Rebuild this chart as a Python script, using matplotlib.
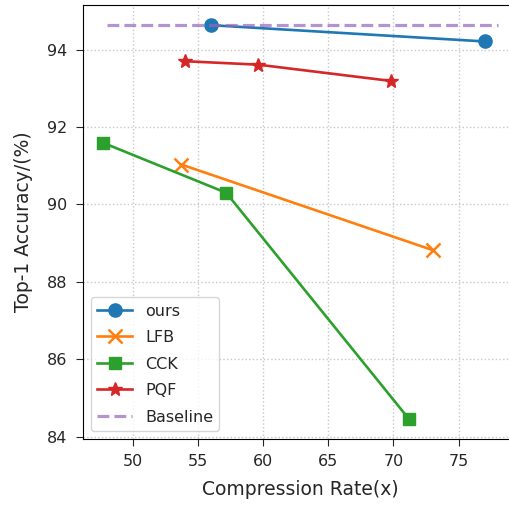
import matplotlib
matplotlib.use('Agg')
import matplotlib.pyplot as plt

# data
ours_x = [56.0, 77.0]
ours_y = [94.63, 94.21]
lfb_x = [53.7, 73.0]
lfb_y = [91.03, 88.82]
cck_x = [47.7, 57.15, 71.2]
cck_y = [91.59, 90.30, 84.45]
pqf_x = [53.95, 59.6, 69.8]
pqf_y = [93.70, 93.61, 93.19]
base_x = [48, 78]
base_y = [94.64, 94.64]

fig = plt.figure(figsize=(5.10, 5.08), dpi=100)
ax = fig.add_axes([0.162, 0.136, 0.852, 0.854])

ax.plot(ours_x, ours_y, marker='o', markersize=9.5, linewidth=1.9, color='tab:blue', label='ours')
ax.plot(lfb_x, lfb_y, marker='x', markersize=9.5, markeredgewidth=1.8, linewidth=1.9, color='tab:orange', label='LFB')
ax.plot(cck_x, cck_y, marker='s', markersize=8.5, linewidth=1.9, color='tab:green', label='CCK')
ax.plot(pqf_x, pqf_y, marker='*', markersize=10.5, linewidth=1.9, color='tab:red', label='PQF')
ax.plot(base_x, base_y, linestyle='--', linewidth=2.3, color='tab:purple', alpha=0.7, label='Baseline')

ax.set_xlim(46.12, 79.5)
ax.set_xticks([50, 55, 60, 65, 70, 75])
ax.set_yticks([84, 86, 88, 90, 92, 94])
ax.tick_params(labelsize=11.5, colors='#262626', length=5, pad=6)
ax.set_xlabel('Compression Rate(x)', fontsize=13.5, color='#262626', labelpad=8)
ax.set_ylabel('Top-1 Accuracy/(%)', fontsize=13.5, color='#262626', labelpad=10)
ax.grid(True, linestyle=':', color='#c8c8c8', linewidth=1.0)

leg = ax.legend(loc='lower left', fontsize=11.5, labelspacing=0.72, handlelength=2.2)
for t in leg.get_texts():
    t.set_color('#262626')

fig.savefig('out.png', dpi=100)
